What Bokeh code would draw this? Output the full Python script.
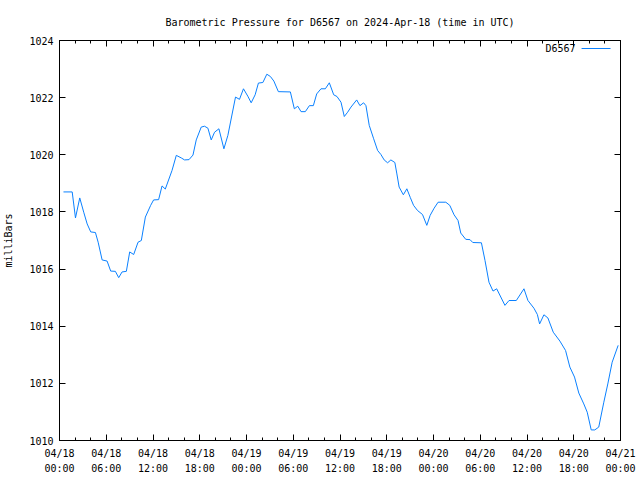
from bokeh.plotting import figure
from bokeh.models import FixedTicker, LinearAxis, Range1d, Label, Title
from bokeh.embed import file_html
from bokeh.resources import INLINE

# ---- data (hours since 2024-04-18 00:00 UTC, pressure in mb) ----
hours = [0.51, 1.63, 2.05, 2.60, 3.11, 3.55, 4.01, 4.61, 4.96, 5.47, 6.11, 6.57, 7.17, 7.60,
         8.03, 8.58, 9.01, 9.52, 10.08, 10.50, 11.02, 11.70, 12.08, 12.72, 13.16, 13.58,
         14.44, 14.99, 15.63, 16.05, 16.62, 17.13, 17.55, 18.19, 18.61, 19.05, 19.47,
         19.90, 20.46, 21.10, 21.61, 22.59, 23.10, 23.61, 24.17, 24.60, 25.11, 25.53,
         26.10, 26.61, 27.07, 27.51, 28.09, 29.63, 30.14, 30.58, 31.00, 31.55, 32.07,
         32.58, 33.01, 33.56, 34.12, 34.63, 35.19, 35.61, 36.13, 36.55, 36.98, 37.41,
         38.14, 38.56, 39.03, 39.33, 39.75, 40.32, 40.83, 41.25, 41.67, 42.11, 42.53,
         43.04, 43.30, 43.59, 44.13, 44.58, 45.03, 45.44, 45.95, 46.59, 47.14, 47.57,
         48.08, 48.59, 49.58, 50.09, 50.64, 51.15, 51.50, 52.14, 52.69, 53.04, 54.15,
         54.61, 55.12, 55.64, 56.11, 57.17, 57.69, 58.63, 59.61, 60.12, 60.89, 61.33,
         61.62, 62.17, 62.68, 63.37, 64.22, 64.95, 65.50, 66.10, 66.65, 67.29, 67.73,
         68.24, 68.70, 69.21, 69.86, 70.37, 70.93, 71.70]
pressure = [1018.70, 1018.70, 1017.79, 1018.49, 1017.99, 1017.58, 1017.30, 1017.28, 1016.94,
            1016.32, 1016.28, 1015.93, 1015.92, 1015.70, 1015.90, 1015.92, 1016.60, 1016.51,
            1016.94, 1017.00, 1017.82, 1018.23, 1018.42, 1018.43, 1018.91, 1018.80, 1019.45,
            1019.98, 1019.89, 1019.82, 1019.83, 1019.99, 1020.52, 1020.97, 1021.00, 1020.93,
            1020.52, 1020.79, 1020.91, 1020.21, 1020.68, 1022.02, 1021.94, 1022.31, 1022.05,
            1021.82, 1022.10, 1022.51, 1022.53, 1022.82, 1022.74, 1022.58, 1022.21, 1022.20,
            1021.61, 1021.70, 1021.51, 1021.51, 1021.72, 1021.72, 1022.13, 1022.31, 1022.31,
            1022.52, 1022.10, 1022.04, 1021.84, 1021.34, 1021.49, 1021.67, 1021.92, 1021.72,
            1021.82, 1021.72, 1021.03, 1020.56, 1020.15, 1020.01, 1019.82, 1019.72, 1019.82,
            1019.73, 1019.33, 1018.87, 1018.60, 1018.81, 1018.50, 1018.23, 1018.05, 1017.91,
            1017.53, 1017.88, 1018.13, 1018.34, 1018.34, 1018.23, 1017.90, 1017.70, 1017.26,
            1017.04, 1017.03, 1016.93, 1016.92, 1016.30, 1015.54, 1015.23, 1015.31, 1014.73,
            1014.90, 1014.90, 1015.31, 1014.90, 1014.63, 1014.41, 1014.08, 1014.40, 1014.29,
            1013.79, 1013.48, 1013.15, 1012.57, 1012.22, 1011.66, 1011.28, 1010.99, 1010.37,
            1010.37, 1010.47, 1011.34, 1011.98, 1012.74, 1013.33]

x_ticks = [0, 6, 12, 18, 24, 30, 36, 42, 48, 54, 60, 66, 72]
x_tick_labels = ["04/18\n00:00", "04/18\n06:00", "04/18\n12:00", "04/18\n18:00",
                 "04/19\n00:00", "04/19\n06:00", "04/19\n12:00", "04/19\n18:00",
                 "04/20\n00:00", "04/20\n06:00", "04/20\n12:00", "04/20\n18:00",
                 "04/21\n00:00"]
x_minor = list(range(0, 73, 2))
y_ticks = [1010, 1012, 1014, 1016, 1018, 1020, 1022, 1024]
series_name = "D6567"
title_text = "Barometric Pressure for D6567 on 2024-Apr-18 (time in UTC)"

FONT = "DejaVu Sans Mono"
LINE_COLOR = "#0a80ff"

p = figure(width=640, height=480, output_backend="svg", toolbar_location=None,
           x_range=Range1d(0, 72), y_range=Range1d(1010, 1024),
           min_border_left=58, min_border_right=20, min_border_top=40, min_border_bottom=40,
           x_axis_type=None, y_axis_type=None)
p.title = Title(text=title_text, align="center", text_font=FONT, text_font_size="10px",
                text_font_style="normal", text_color="black", standoff=25)
p.grid.visible = False
p.outline_line_color = "black"
p.outline_line_width = 1
p.background_fill_color = "white"
p.border_fill_color = "white"

xt = FixedTicker(ticks=x_ticks, minor_ticks=x_minor)
yt = FixedTicker(ticks=y_ticks, minor_ticks=[])


def style(ax, labels=True):
    ax.axis_line_color = "black"
    ax.major_tick_in = 6
    ax.major_tick_out = 0
    ax.minor_tick_in = 3
    ax.minor_tick_out = 0
    ax.major_tick_line_color = "black"
    ax.minor_tick_line_color = "black"
    ax.major_label_text_font = FONT
    ax.major_label_text_font_size = "10px"
    ax.major_label_text_color = "black"
    if not labels:
        ax.major_label_overrides = {t: "" for t in ax.ticker.ticks}
        ax.major_label_standoff = 0


xb = LinearAxis(ticker=xt)
style(xb)
xb.major_label_overrides = {t: lab for t, lab in zip(x_ticks, x_tick_labels)}
xb.major_label_standoff = 7
xb.major_label_text_line_height = 1.45
p.add_layout(xb, "below")

xa = LinearAxis(ticker=xt)
style(xa, labels=False)
p.add_layout(xa, "above")

yl = LinearAxis(ticker=yt, axis_label="milliBars")
style(yl)
yl.minor_tick_in = 0
yl.major_label_standoff = 6
yl.axis_label_text_font = FONT
yl.axis_label_text_font_size = "10px"
yl.axis_label_text_font_style = "normal"
yl.axis_label_text_color = "black"
yl.axis_label_standoff = 12
p.add_layout(yl, "left")

yr = LinearAxis(ticker=yt)
style(yr, labels=False)
yr.minor_tick_in = 0
p.add_layout(yr, "right")

p.line(hours, pressure, line_color=LINE_COLOR, line_width=1)

# legend (gnuplot style: text then sample line), top-right corner
leg_y = 1024 - 8 * 14 / 400
p.add_layout(Label(x=72, y=leg_y, x_offset=-45, text=series_name, text_align="right",
                   text_baseline="middle", text_font=FONT, text_font_size="10px",
                   text_color="black"))
px_per_h = 562 / 72
p.line([72 - 39 / px_per_h, 72 - 10 / px_per_h], [leg_y, leg_y], line_color=LINE_COLOR,
       line_width=1)

open("out.html", "w").write(file_html(p, INLINE))
